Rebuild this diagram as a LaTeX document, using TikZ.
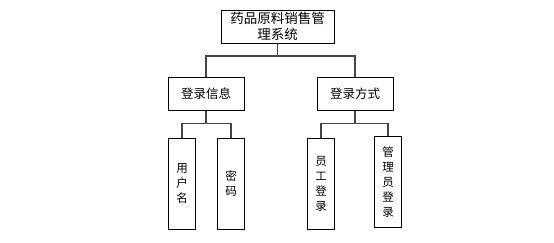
\documentclass[tikz,border=0pt]{standalone}
\usepackage{fontspec}
\usepackage{tikz}
\setmainfont{Noto Sans CJK SC}
\definecolor{linkgray}{RGB}{70, 70, 70}

\tikzset{
  box/.style={draw=black, line width=1pt, fill=white, inner sep=0pt, align=center},
  leafbox/.style={box, minimum width=27pt, minimum height=91pt,
    font=\fontsize{11.5}{15}\selectfont},
  link/.style={draw=linkgray, line width=1.3pt}
}

\begin{document}
\begin{tikzpicture}[x=1pt, y=-1pt]
        \useasboundingbox (0,0) rectangle (554,242);
        % top
        \node[box, minimum width=113pt, minimum height=33pt, font=\fontsize{13.5}{16}\selectfont]
          (root) at (277.5,26.5) {药品原料销售管\\理系统};
        % second row
        \node[box, minimum width=76pt, minimum height=33pt, font=\fontsize{12.5}{14}\selectfont]
          (info) at (206,93.5) {登录信息};
        \node[box, minimum width=76pt, minimum height=33pt, font=\fontsize{12.5}{14}\selectfont]
          (mode) at (355,93.5) {登录方式};
        % leaves
        \node[leafbox] (user) at (182,184) {用\\户\\名};
        \node[leafbox] (pwd) at (231,184) {密\\码};
        \node[leafbox] (staff) at (321,184) {员\\工\\登\\录};
        \node[leafbox] (admin) at (388,182) {管\\理\\员\\登\\录};
        % connectors
        \coordinate (j0) at (277.5,56);
        \coordinate (j1) at (206,123.5);
        \coordinate (j2) at (355,123.5);
        \draw[link] (root) -- (j0);
        \draw[link] (info.north) |- (j0) -| (mode.north);
        \draw[link] (info) -- (j1);
        \draw[link] (user.north) |- (j1) -| (pwd.north);
        \draw[link] (mode) -- (j2);
        \draw[link] (staff.north) |- (j2) -| (admin.north);
      \end{tikzpicture}
\end{document}
